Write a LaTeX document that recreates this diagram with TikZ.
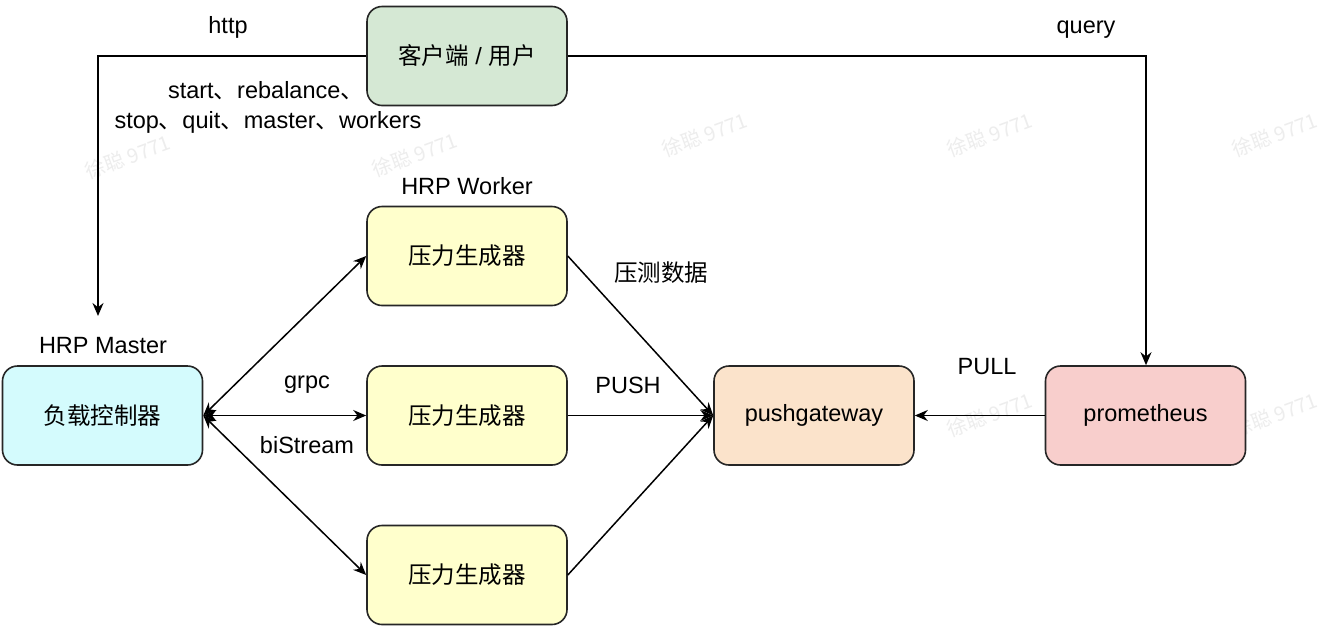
\documentclass[tikz,border=0pt]{standalone}
\usepackage{fontspec}
\setmainfont{Liberation Sans}
\newfontfamily\cjkfont{Noto Sans CJK SC}
\newcommand\zhtxt[1]{{\cjkfont #1}}
\usetikzlibrary{arrows.meta}
\definecolor{clientfill}{HTML}{D5E8D4}
\definecolor{masterfill}{HTML}{D4FBFD}
\definecolor{workerfill}{HTML}{FFFFCC}
\definecolor{pgfill}{HTML}{FBE3CB}
\definecolor{promfill}{HTML}{F8CECC}
\definecolor{wm}{HTML}{EDEDED}
\begin{document}
\begin{tikzpicture}[x=1pt,y=-1pt,
  font=\fontsize{23.5}{30}\selectfont,
  box/.style={draw=black!85, line width=1.6pt, rounded corners=15pt, minimum width=200pt, minimum height=99pt, inner sep=0pt},
  conn/.style={line width=1.5pt, black},
  tip/.style={-{Stealth[length=13pt,width=11pt]}},
  btip/.style={{Stealth[length=13pt,width=11pt]}-{Stealth[length=13pt,width=11pt]}},
  lbl/.style={inner sep=0pt, text=black},
  bl/.style={inner sep=0pt, text=black, anchor=base},
  wmark/.style={text=wm, rotate=20, font=\cjkfont\fontsize{20}{24}\selectfont}
]
\useasboundingbox (0,0) rectangle (1334,638);
\fill[white] (0,0) rectangle (1334,638);
% watermarks (only where they leave the texts clear)
\node[wmark] (wa1) at (128,157) {徐聪~9771};
\node[wmark] (wa2) at (415,155) {徐聪~9771};
\foreach \xx in {705,990,1275} {
  \node[wmark] (wa\xx) at (\xx,135) {徐聪~9771};
}
\foreach \xx in {990,1275} {
  \node[wmark] (wb\xx) at (\xx,415) {徐聪~9771};
}
% nodes
\node[box, fill=clientfill] (client) at (467,56) {\zhtxt{客户端} / \zhtxt{用户}};
\node[box, fill=masterfill] (master) at (102.5,415.5) {\zhtxt{负载控制器}};
\node[box, fill=workerfill] (w1) at (467,256) {\zhtxt{压力生成器}};
\node[box, fill=workerfill] (w2) at (467,415.5) {\zhtxt{压力生成器}};
\node[box, fill=workerfill] (w3) at (467,575) {\zhtxt{压力生成器}};
\node[box, fill=pgfill] (pg) at (814,415.5) {pushgateway};
\node[box, fill=promfill] (prom) at (1145.5,415.5) {prometheus};
% labels
\node[bl] (lhttp) at (228,33) {http};
\node[bl] (lquery) at (1086,33) {query};
\node[bl] (lcmd1) at (266,98) {start\zhtxt{、}rebalance\zhtxt{、}};
\node[bl] (lcmd2) at (268,128) {stop\zhtxt{、}quit\zhtxt{、}master\zhtxt{、}workers};
\node[bl] (lworker) at (467,194) {HRP Worker};
\node[bl] (lmaster) at (103,353) {HRP Master};
\node[bl] (lgrpc) at (307,388) {grpc};
\node[bl] (lbi) at (307,453) {biStream};
\node[lbl] (lpress) at (661,273) {\zhtxt{压测数据}};
\node[bl] (lpush) at (628,393) {PUSH};
\node[bl] (lpull) at (987,374) {PULL};
% connectors
\coordinate (mtop) at (98,316);
\draw[conn, tip] (client.west) -| (mtop);
\draw[conn, tip] (client.east) -| (prom.north -| 1146,0);
\draw[conn, tip] (prom.west) -- (pg.east);
\draw[conn, btip] (master.east) -- (w1.west);
\draw[conn, btip] (master.east) -- (w2.west);
\draw[conn, btip] (master.east) -- (w3.west);
\draw[conn, tip] (w1.east) -- (pg.west);
\draw[conn, tip] (w2.east) -- (pg.west);
\draw[conn, tip] (w3.east) -- (pg.west);
\end{tikzpicture}
\end{document}
